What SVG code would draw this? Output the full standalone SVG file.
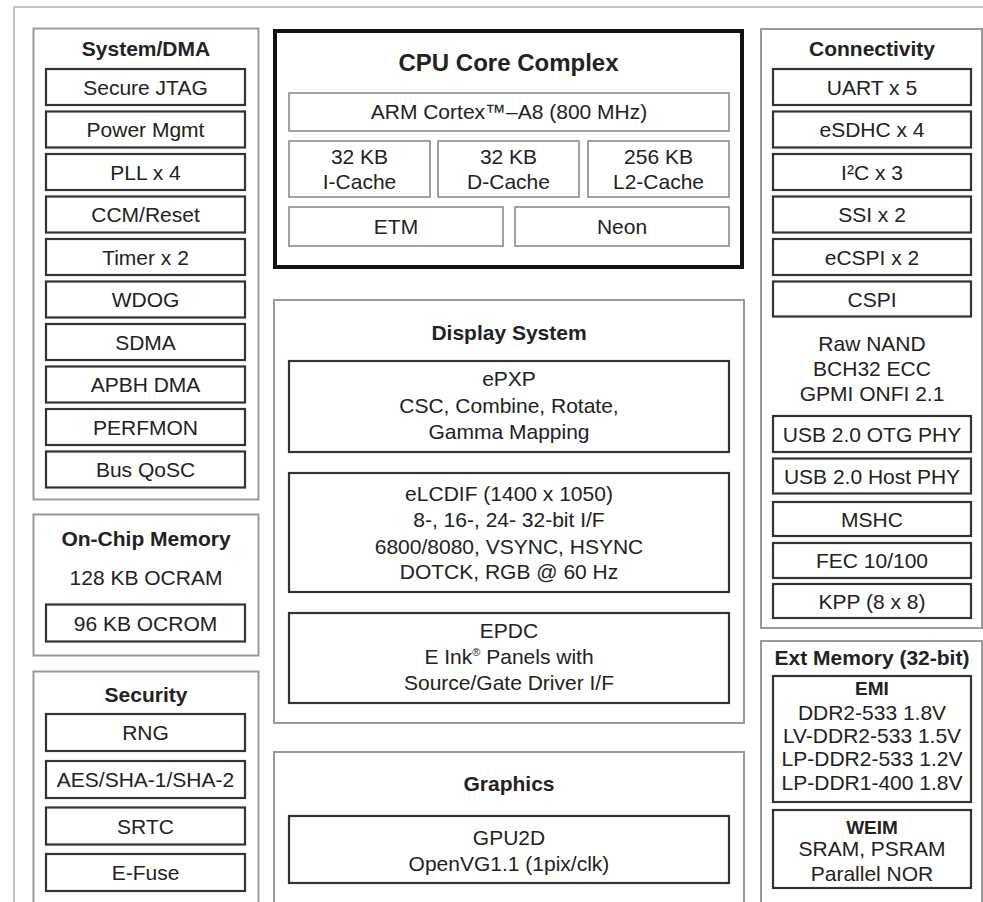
<svg xmlns="http://www.w3.org/2000/svg" width="983" height="902" viewBox="0 0 983 902">
<style>
text{font-family:"Liberation Sans",Arial,sans-serif;fill:#222;text-anchor:middle}
.t{font-size:21px;font-weight:bold}
.ht{font-size:24px;font-weight:bold}
.s{font-size:19px;font-weight:bold}
.r{font-size:21px}
.frame{fill:none;stroke:#c4c4c4;stroke-width:2}
.panel{fill:#fff;stroke:#9a9a9a;stroke-width:2}
.cpu{fill:#fff;stroke:#111;stroke-width:4}
.box{fill:#fff;stroke:#333;stroke-width:2.2}
.lbox{fill:#fff;stroke:#8a8a8a;stroke-width:1.6}
</style>
<rect width="983" height="902" fill="#fff"/>
<path class="frame" d="M14,905 V7 H985"/>

<g id="system-dma">
<rect class="panel" x="33.5" y="28.5" width="225" height="471"/>
<text class="t" x="146" y="55.5">System/DMA</text>
<rect class="box" x="46" y="69" width="199" height="36"/><text class="r" x="145.5" y="94.5">Secure JTAG</text>
<rect class="box" x="46" y="111.5" width="199" height="36"/><text class="r" x="145.5" y="137">Power Mgmt</text>
<rect class="box" x="46" y="154" width="199" height="36"/><text class="r" x="145.5" y="179.5">PLL x 4</text>
<rect class="box" x="46" y="196.5" width="199" height="36"/><text class="r" x="145.5" y="222">CCM/Reset</text>
<rect class="box" x="46" y="239" width="199" height="36"/><text class="r" x="145.5" y="264.5">Timer x 2</text>
<rect class="box" x="46" y="281.5" width="199" height="36"/><text class="r" x="145.5" y="307">WDOG</text>
<rect class="box" x="46" y="324" width="199" height="36"/><text class="r" x="145.5" y="349.5">SDMA</text>
<rect class="box" x="46" y="366.5" width="199" height="36"/><text class="r" x="145.5" y="392">APBH DMA</text>
<rect class="box" x="46" y="409" width="199" height="36"/><text class="r" x="145.5" y="434.5">PERFMON</text>
<rect class="box" x="46" y="451.5" width="199" height="36"/><text class="r" x="145.5" y="477">Bus QoSC</text>
</g>

<g id="on-chip-memory">
<rect class="panel" x="33.5" y="514.5" width="225" height="141"/>
<text class="t" x="146" y="545.5">On-Chip Memory</text>
<text class="r" x="146" y="584.5">128 KB OCRAM</text>
<rect class="box" x="46" y="604.5" width="199" height="37"/><text class="r" x="145.5" y="630.5">96 KB OCROM</text>
</g>

<g id="security">
<rect class="panel" x="33.5" y="671.5" width="225" height="240"/>
<text class="t" x="146" y="701.5">Security</text>
<rect class="box" x="46" y="714" width="199" height="37"/><text class="r" x="145.5" y="740">RNG</text>
<rect class="box" x="46" y="761" width="199" height="37"/><text class="r" x="145.5" y="787">AES/SHA-1/SHA-2</text>
<rect class="box" x="46" y="807.5" width="199" height="37"/><text class="r" x="145.5" y="833.5">SRTC</text>
<rect class="box" x="46" y="854" width="199" height="37"/><text class="r" x="145.5" y="880">E-Fuse</text>
</g>

<g id="cpu-core-complex">
<rect class="cpu" x="275" y="31" width="467" height="236"/>
<text class="ht" x="508.5" y="70.5">CPU Core Complex</text>
<rect class="lbox" x="289" y="93" width="440" height="38"/><text class="r" x="509" y="118.5">ARM Cortex™–A8 (800 MHz)</text>
<rect class="lbox" x="289" y="141" width="141" height="56"/><text class="r" x="359.5" y="163.5">32 KB</text><text class="r" x="359.5" y="188.5">I-Cache</text>
<rect class="lbox" x="438" y="141" width="141" height="56"/><text class="r" x="508.5" y="163.5">32 KB</text><text class="r" x="508.5" y="188.5">D-Cache</text>
<rect class="lbox" x="588" y="141" width="141" height="56"/><text class="r" x="658.5" y="163.5">256 KB</text><text class="r" x="658.5" y="188.5">L2-Cache</text>
<rect class="lbox" x="289" y="207" width="214" height="39"/><text class="r" x="396" y="233.5">ETM</text>
<rect class="lbox" x="515" y="207" width="214" height="39"/><text class="r" x="622" y="233.5">Neon</text>
</g>

<g id="display-system">
<rect class="panel" x="274" y="300" width="470" height="423"/>
<text class="t" x="509" y="339.5">Display System</text>
<rect class="box" x="289" y="361" width="440" height="91"/>
<text class="r" x="509" y="385.5">ePXP</text>
<text class="r" x="509" y="412.5">CSC, Combine, Rotate,</text>
<text class="r" x="509" y="438.5">Gamma Mapping</text>
<rect class="box" x="289" y="473" width="440" height="119"/>
<text class="r" x="509" y="500.5">eLCDIF (1400 x 1050)</text>
<text class="r" x="509" y="526.5">8-, 16-, 24- 32-bit I/F</text>
<text class="r" x="509" y="553.5">6800/8080, VSYNC, HSYNC</text>
<text class="r" x="509" y="578.5">DOTCK, RGB @ 60 Hz</text>
<rect class="box" x="289" y="613" width="440" height="90"/>
<text class="r" x="509" y="637.5">EPDC</text>
<text class="r" x="509" y="663.5">E Ink<tspan font-size="11" dy="-8">®</tspan><tspan dy="8"> Panels with</tspan></text>
<text class="r" x="509" y="689.5">Source/Gate Driver I/F</text>
</g>

<g id="graphics">
<rect class="panel" x="274" y="752" width="470" height="160"/>
<text class="t" x="509" y="790.5">Graphics</text>
<rect class="box" x="289" y="816" width="440" height="67"/>
<text class="r" x="509" y="844.5">GPU2D</text>
<text class="r" x="509" y="870.5">OpenVG1.1 (1pix/clk)</text>
</g>

<g id="connectivity">
<rect class="panel" x="761" y="29" width="221" height="599"/>
<text class="t" x="872" y="55.5">Connectivity</text>
<rect class="box" x="773" y="69" width="198" height="36"/><text class="r" x="872" y="94.5">UART x 5</text>
<rect class="box" x="773" y="111.5" width="198" height="36"/><text class="r" x="872" y="137">eSDHC x 4</text>
<rect class="box" x="773" y="154" width="198" height="36"/><text class="r" x="872" y="179.5">I²C x 3</text>
<rect class="box" x="773" y="196.5" width="198" height="36"/><text class="r" x="872" y="222">SSI x 2</text>
<rect class="box" x="773" y="239" width="198" height="36"/><text class="r" x="872" y="264.5">eCSPI x 2</text>
<rect class="box" x="773" y="281.5" width="198" height="35"/><text class="r" x="872" y="306.5">CSPI</text>
<text class="r" x="872" y="350.5">Raw NAND</text>
<text class="r" x="872" y="375.5">BCH32 ECC</text>
<text class="r" x="872" y="400.5">GPMI ONFI 2.1</text>
<rect class="box" x="773" y="416" width="198" height="36"/><text class="r" x="872" y="441.5">USB 2.0 OTG PHY</text>
<rect class="box" x="773" y="458.5" width="198" height="35"/><text class="r" x="872" y="483.5">USB 2.0 Host PHY</text>
<rect class="box" x="773" y="502" width="198" height="34"/><text class="r" x="872" y="526.5">MSHC</text>
<rect class="box" x="773" y="543" width="198" height="35"/><text class="r" x="872" y="568">FEC 10/100</text>
<rect class="box" x="773" y="584" width="198" height="34"/><text class="r" x="872" y="608.5">KPP (8 x 8)</text>
</g>

<g id="ext-memory">
<rect class="panel" x="761" y="641" width="221" height="270"/>
<text class="t" x="872" y="664.5">Ext Memory (32-bit)</text>
<rect class="box" x="773" y="676" width="198" height="126"/>
<text class="s" x="872" y="694.8">EMI</text>
<text class="r" x="872" y="719.5">DDR2-533 1.8V</text>
<text class="r" x="872" y="742.5">LV-DDR2-533 1.5V</text>
<text class="r" x="872" y="765.5">LP-DDR2-533 1.2V</text>
<text class="r" x="872" y="789.5">LP-DDR1-400 1.8V</text>
<rect class="box" x="773" y="810" width="198" height="78"/>
<text class="s" x="872" y="833.8">WEIM</text>
<text class="r" x="872" y="855.5">SRAM, PSRAM</text>
<text class="r" x="872" y="880.5">Parallel NOR</text>
</g>
</svg>
